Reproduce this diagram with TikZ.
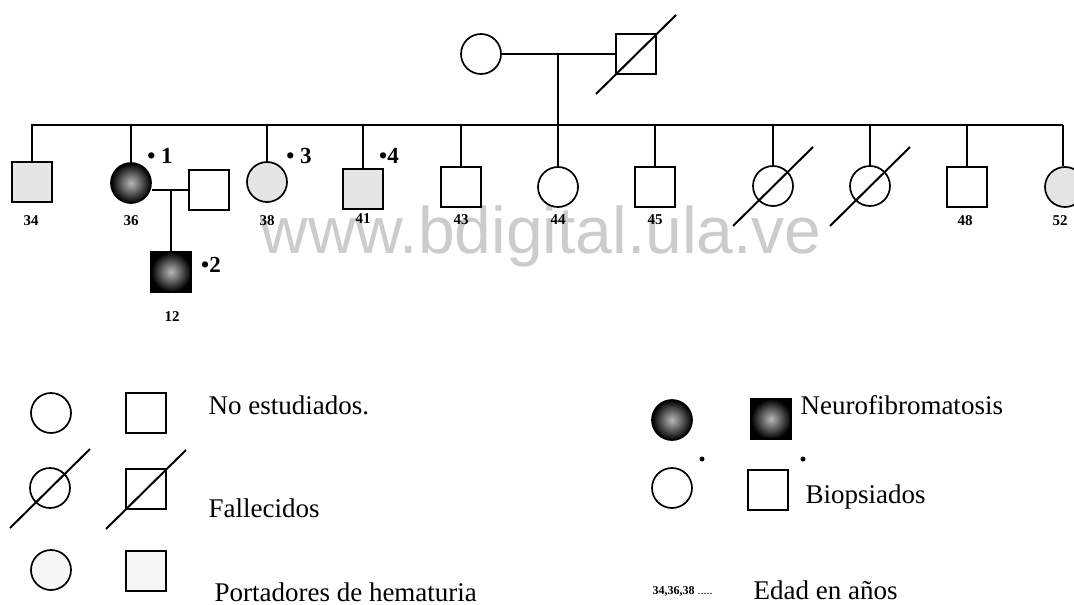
\documentclass[tikz,border=0pt]{standalone}
\usepackage{fontspec}
\setmainfont{Liberation Serif}
\newfontfamily\wmfont{Liberation Sans}
\tikzset{
  person/.style={draw,line width=1.7pt,inner sep=0pt},
  fem/.style={person,circle,minimum size=40pt},
  mal/.style={person,rectangle,minimum size=40pt},
  carrier/.style={fill=gray!20},
  lcarrier/.style={fill=gray!7},
  nf/.style={shading=radial,inner color=gray!55,outer color=black},
  link/.style={line width=1.3pt},
  dead/.style={line width=2pt},
  age/.style={font=\fontsize{15}{17}\selectfont\bfseries},
  bio/.style={font=\fontsize{23}{25}\selectfont\bfseries},
  leg/.style={font=\fontsize{27}{31}\selectfont,anchor=west},
  bdot/.style={circle,fill,inner sep=0pt,minimum size=5pt},
  wm/.style={font=\wmfont\fontsize{66}{70}\selectfont,text=black,text opacity=0.2}
}
\begin{document}
\begin{tikzpicture}[x=1pt,y=-1pt]
	\useasboundingbox (0,0) rectangle (1074,605);
	% Padres
	\node[fem] (mom) at (481,54) {};
	\node[mal] (dad) at (636,54) {};
	\draw[link] (mom) -- (dad);
	\coordinate (tmid) at (558,54);
	\coordinate (sibL) at (31,125);
	\coordinate (sibR) at (1063,125);
	\draw[link] (tmid) -- (tmid |- sibL);
	\draw[link] (sibL) -- (sibR);
	% Hijos
	\node[mal,carrier] (p34) at (32,182) {};
	\node[fem,nf] (p36) at (131,183) {};
	\node[fem,carrier] (p38) at (267,182) {};
	\node[mal,carrier] (p41) at (363,189) {};
	\node[mal] (p43) at (461,187) {};
	\node[fem] (p44) at (558,187) {};
	\node[mal] (p45) at (655,187) {};
	\node[fem] (d1) at (773,186) {};
	\node[fem] (d2) at (870,186) {};
	\node[mal] (p48) at (967,187) {};
	\node[fem,carrier] (p52) at (1065,187) {};
	\foreach \n in {p34,p36,p38,p41,p43,p44,p45,d1,d2,p48}
		\draw[link] (\n.north) -- (\n.north |- sibL);
	\draw[link] (sibR) -- (sibR |- p52.north);
	% Pareja y nieto
	\node[mal] (sp36) at (209,190) {};
	\coordinate (m36) at (171,190);
	\draw[link] (sp36.west) -- (sp36.west -| p36.east);
	\node[mal,nf] (c12) at (171,272) {};
	\draw[link] (m36) -- (c12.north);
	% Edades
	\node[age] (a34) at (31,221) {34};
	\node[age] (a36) at (131,221) {36};
	\node[age] (a38) at (267,221) {38};
	\node[age] (a41) at (363,219) {41};
	\node[age] (a43) at (461,220) {43};
	\node[age] (a44) at (558,220) {44};
	\node[age] (a45) at (655,220) {45};
	\node[age] (a48) at (965,221) {48};
	\node[age] (a52) at (1060,221) {52};
	\node[age] (a12) at (172,317) {12};
	% Biopsiados
	\node[bio] (b1) at (160,156) {• 1};
	\node[bio] (b2) at (211,265) {•2};
	\node[bio] (b3) at (299,156) {• 3};
	\node[bio] (b4) at (389,156) {•4};
	% Leyenda
	\node[fem] (lf1) at (51,413) {};
	\node[mal] (lm1) at (146,413) {};
	\node[fem] (lf2) at (50,488) {};
	\node[mal] (lm2) at (146,489) {};
	\node[fem,lcarrier] (lf3) at (51,570) {};
	\node[mal,lcarrier] (lm3) at (146,571) {};
	\node[fem,nf] (rf1) at (672,420) {};
	\node[mal,nf] (rm1) at (771,419) {};
	\node[fem] (rf2) at (672,488) {};
	\node[mal] (rm2) at (768,490) {};
	\node[bdot] (bd1) at (702,459) {};
	\node[bdot] (bd2) at (803,459) {};
	\node[leg] (t1) at (205,405) {No estudiados.};
	\node[leg] (t2) at (205,508) {Fallecidos};
	\node[leg] (t3) at (211,592) {Portadores de hematuria};
	\node[leg] (t4) at (797,405) {Neurofibromatosis};
	\node[leg] (t5) at (802,497) {Biopsiados};
	\node[leg] (t6) at (649,591) {\fontsize{12}{14}\selectfont\textbf{34,36,38} .....};
	\node[leg] (t7) at (750,590) {Edad en años};
	% Fallecidos: raya diagonal
	\foreach \n in {dad,d1,d2,lf2,lm2}
		\draw[dead] ([shift={(-40,40)}]\n.center) -- ([shift={(40,-39)}]\n.center);
	\node[wm] (marca) at (541,236) {www.bdigital.ula.ve};
\end{tikzpicture}
\end{document}
